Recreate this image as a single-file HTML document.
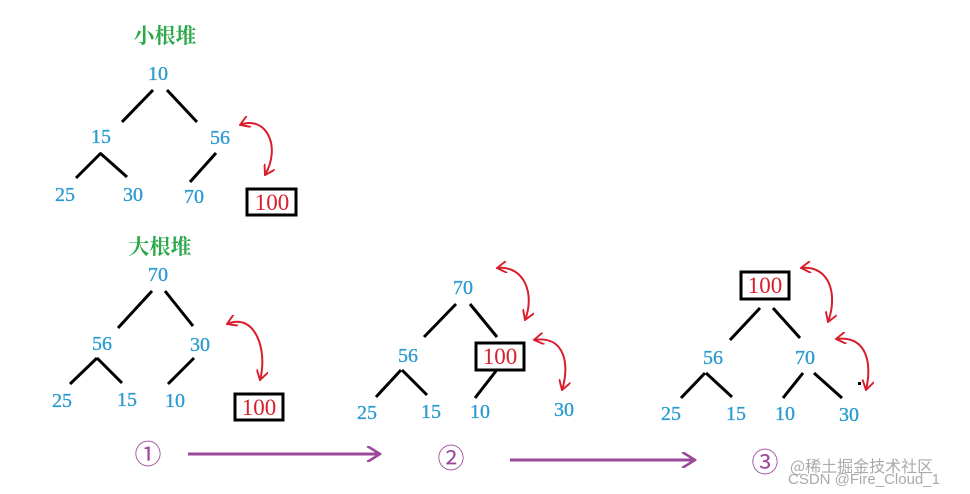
<!DOCTYPE html>
<html><head><meta charset="utf-8"><style>
html,body{margin:0;padding:0;background:#fff;}
svg{display:block;}
.n{font-family:"Liberation Serif","Noto Serif CJK SC",serif;font-size:20px;fill:#2a9bd0;text-anchor:middle;stroke:#2a9bd0;stroke-width:0.3;}
.b{font-family:"Liberation Serif",serif;font-size:23px;fill:#d81e2c;text-anchor:middle;}
.t{font-family:"Noto Serif CJK SC","Noto Sans CJK SC",serif;font-size:21px;font-weight:bold;fill:#2ca84a;text-anchor:middle;}
.c{font-family:"Liberation Serif","Noto Sans CJK SC",serif;font-size:27px;fill:#9b4a9b;text-anchor:middle;}
.l{stroke:#000;stroke-width:3;fill:none;}
.r{stroke:#d81e2c;stroke-width:2;fill:none;marker-start:url(#ah);marker-end:url(#ah);}
.bx{fill:#fff;stroke:#000;stroke-width:3;}
</style></head><body>
<svg width="970" height="494" viewBox="0 0 970 494">
<defs>
<marker id="ah" viewBox="0 0 10 10" refX="9" refY="5" markerWidth="12" markerHeight="12" orient="auto-start-reverse" markerUnits="userSpaceOnUse">
<path d="M1,0 L9,5 L1,10" stroke="#d81e2c" stroke-width="1.6" fill="none"/>
</marker>
<marker id="ph" viewBox="0 0 10 10" refX="9" refY="5" markerWidth="16" markerHeight="16" orient="auto" markerUnits="userSpaceOnUse">
<path d="M1,0 L9,5 L1,10" stroke="#9b4a9b" stroke-width="1.6" fill="none"/>
</marker>
</defs>
<text class="t" x="165" y="43">小根堆</text>
<text class="n" x="158" y="80">10</text>
<path class="l" d="M153,90 L122,122 M167,90 L197,122 M101,153 L76,178 M100,153 L127,177 M216,153 L190,182"/>
<text class="n" x="101" y="143">15</text>
<text class="n" x="220" y="144">56</text>
<text class="n" x="65" y="201">25</text>
<text class="n" x="133" y="201">30</text>
<text class="n" x="194" y="203">70</text>
<rect class="bx" x="247" y="189" width="49" height="26"/>
<text class="b" x="272" y="210">100</text>
<path class="r" d="M240,125 C265,115 282,145 265,175"/>
<text class="t" x="160" y="254">大根堆</text>
<text class="n" x="158" y="281">70</text>
<path class="l" d="M152,291 L118,328 M165,291 L193,326 M97,358 L70,384 M97,358 L122,383 M194,358 L168,384"/>
<text class="n" x="102" y="350">56</text>
<text class="n" x="200" y="351">30</text>
<text class="n" x="62" y="407">25</text>
<text class="n" x="127" y="406">15</text>
<text class="n" x="175" y="407">10</text>
<rect class="bx" x="235" y="394" width="48" height="26"/>
<text class="b" x="259" y="415">100</text>
<path class="r" d="M227,324 C255,312 268,350 260,380"/>
<text class="n" x="463" y="294">70</text>
<path class="l" d="M456,304 L424,337 M470,304 L497,337 M401,370 L376,397 M402,370 L427,395 M496,371 L475,398"/>
<text class="n" x="408" y="362">56</text>
<rect class="bx" x="476" y="343" width="48" height="27"/>
<text class="b" x="500" y="364">100</text>
<text class="n" x="367" y="419">25</text>
<text class="n" x="431" y="418">15</text>
<text class="n" x="480" y="418">10</text>
<text class="n" x="564" y="416">30</text>
<path class="r" d="M497,268 C525,265 535,295 525,320"/>
<path class="r" d="M534,340 C565,335 570,365 562,390"/>
<rect class="bx" x="741" y="272" width="48" height="27"/>
<text class="b" x="765" y="293">100</text>
<path class="l" d="M760,308 L730,340 M773,308 L800,338 M705,373 L681,398 M706,373 L732,397 M803,373 L783,398 M814,373 L842,398"/>
<text class="n" x="713" y="364">56</text>
<text class="n" x="805" y="364">70</text>
<text class="n" x="671" y="420">25</text>
<text class="n" x="736" y="420">15</text>
<text class="n" x="785" y="420">10</text>
<text class="n" x="849" y="421">30</text>
<path class="r" d="M801,268 C830,265 838,295 828,322"/>
<path class="r" d="M836,339 C868,335 872,365 866,390"/>
<rect x="858" y="382" width="3" height="3" fill="#000"/>
<text class="c" x="148" y="464">①</text>
<text class="c" x="451" y="468">②</text>
<text class="c" x="765" y="472">③</text>
<path d="M188,454 L380,454" stroke="#9b4a9b" stroke-width="3" marker-end="url(#ph)"/>
<path d="M510,460 L695,460" stroke="#9b4a9b" stroke-width="3" marker-end="url(#ph)"/>
<text x="790" y="472" font-family="Noto Sans CJK SC,sans-serif" font-size="16" fill="#aaa">@稀土掘金技术社区</text>
<text x="788" y="484" font-family="Liberation Sans,sans-serif" font-size="15" fill="#aaa">CSDN @Fire_Cloud_1</text>
</svg>
</body></html>
